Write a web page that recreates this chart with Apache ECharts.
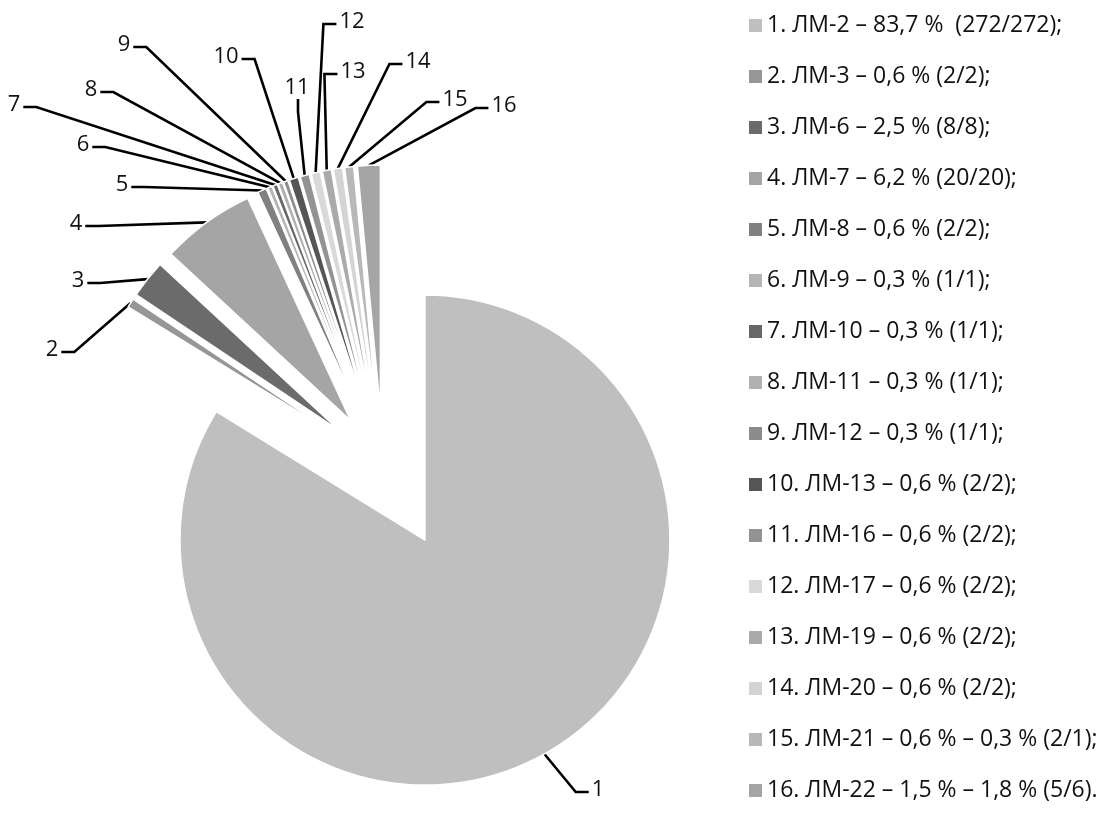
<!DOCTYPE html>
<html><head><meta charset="utf-8">
<script src="https://cdn.jsdelivr.net/npm/echarts/dist/echarts.min.js"></script>
<style>html,body{margin:0;padding:0;background:#fff}#c{width:1102px;height:828px}</style>
</head><body><div id="c"></div>
<script>
const categories = [
  '1. ЛМ-2 – 83,7 %  (272/272);',
  '2. ЛМ-3 – 0,6 % (2/2);',
  '3. ЛМ-6 – 2,5 % (8/8);',
  '4. ЛМ-7 – 6,2 % (20/20);',
  '5. ЛМ-8 – 0,6 % (2/2);',
  '6. ЛМ-9 – 0,3 % (1/1);',
  '7. ЛМ-10 – 0,3 % (1/1);',
  '8. ЛМ-11 – 0,3 % (1/1);',
  '9. ЛМ-12 – 0,3 % (1/1);',
  '10. ЛМ-13 – 0,6 % (2/2);',
  '11. ЛМ-16 – 0,6 % (2/2);',
  '12. ЛМ-17 – 0,6 % (2/2);',
  '13. ЛМ-19 – 0,6 % (2/2);',
  '14. ЛМ-20 – 0,6 % (2/2);',
  '15. ЛМ-21 – 0,6 % – 0,3 % (2/1);',
  '16. ЛМ-22 – 1,5 % – 1,8 % (5/6).'
];
const values = [83.7, 0.6, 2.5, 6.2, 0.6, 0.3, 0.3, 0.3, 0.3, 0.6, 0.6, 0.6, 0.6, 0.6, 0.6, 1.5];
const labelNums = ['1','2','3','4','5','6','7','8','9','10','11','12','13','14','15','16'];

// styling / layout (not data)
const colors = ['#bfbfbf','#969696','#6b6b6b','#a5a5a5','#808080','#b5b5b5','#676767','#b0b0b0',
                '#8c8c8c','#555555','#939393','#d9d9d9','#aaaaaa','#d4d4d4','#b8b8b8','#a5a5a5'];
const labelPos = [[598,790],[52,350],[78,281],[76,224],[122,185],[83,145],[14,105],[91,90],
                  [124,45],[226,57],[297,88],[352,22],[353,72],[418,62],[455,100],[504,106]];
// which side of the label the leader line attaches to
const labelSide = ['left','right','right','right','right','right','right','right',
                   'right','right','bottom','left','left','left','left','left'];
const FONT = 'Open Sans';
const FS = 22;
const PIE_CENTER = [383, 465];
const PIE_RADIUS = 245;
const explodeDist = i => (i === 0 ? 86 : 55);   // exploded pie pieces
const LEAD = 13, GAP = 3;

// angle of each slice bisector (same as the pie layout: start at top, clockwise)
const total = values.reduce((a, b) => a + b, 0);
let acc = 0;
const mids = values.map(v => { const m = (acc + v / 2) / total * 2 * Math.PI; acc += v; return m; });

function buildData(k) {
  return values.map((v, i) => {
    const visible = i === k;
    return {
      name: categories[i],
      value: v,
      itemStyle: visible ? {color: colors[i], borderColor: '#fff', borderWidth: 1.5}
                         : {color: 'rgba(0,0,0,0)', borderWidth: 0},
      label: {show: visible},
      labelLine: {show: visible}
    };
  });
}

function layoutLabel(p) {
  const i = p.dataIndex;
  const [x, y] = labelPos[i];
  const w = p.labelRect.width, h = p.labelRect.height;
  const res = {x: x, y: y, align: 'center', verticalAlign: 'middle'};
  if (p.labelLinePoints && p.labelLinePoints.length) {
    const start = p.labelLinePoints[0];
    let end, kink;
    if (labelSide[i] === 'right') {
      end = [x + w / 2 + GAP, y + 2]; kink = [end[0] + LEAD, end[1]];
    } else if (labelSide[i] === 'left') {
      end = [x - w / 2 - GAP, y + 2]; kink = [end[0] - LEAD, end[1]];
    } else {
      end = [x + 1, y + h / 2]; kink = [end[0], end[1] + LEAD];
    }
    res.labelLinePoints = [start, kink, end];
  }
  return res;
}

function pieceSeries(k) {
  const d = explodeDist(k);
  return {
    type: 'pie',
    radius: PIE_RADIUS,
    center: [PIE_CENTER[0] + d * Math.sin(mids[k]), PIE_CENTER[1] - d * Math.cos(mids[k])],
    startAngle: 90,
    clockwise: true,
    animation: false,
    avoidLabelOverlap: false,
    minShowLabelAngle: 0,
    silent: true,
    emphasis: {disabled: true, scale: false},
    label: {
      show: true, position: 'outside',
      formatter: p => labelNums[p.dataIndex],
      color: '#111', fontSize: FS, fontFamily: FONT
    },
    labelLine: {show: true, length: 10, length2: 12, smooth: false,
                lineStyle: {color: '#000', width: 2.6}},
    labelLayout: layoutLabel,
    data: buildData(k)
  };
}

const chart = echarts.init(document.getElementById('c'), null, {renderer: 'canvas'});
chart.setOption({
  backgroundColor: '#fff',
  animation: false,
  legend: {
    orient: 'vertical', left: 744, top: 9,
    itemWidth: 13, itemHeight: 13, itemGap: 28, icon: 'rect',
    selectedMode: false,
    textStyle: {fontSize: 23, fontFamily: FONT, color: '#111', lineHeight: 23},
    data: categories.map((n, i) => ({name: n, itemStyle: {color: colors[i], borderWidth: 0, opacity: 1}}))
  },
  series: values.map((_, k) => pieceSeries(k))
});
</script></body></html>
